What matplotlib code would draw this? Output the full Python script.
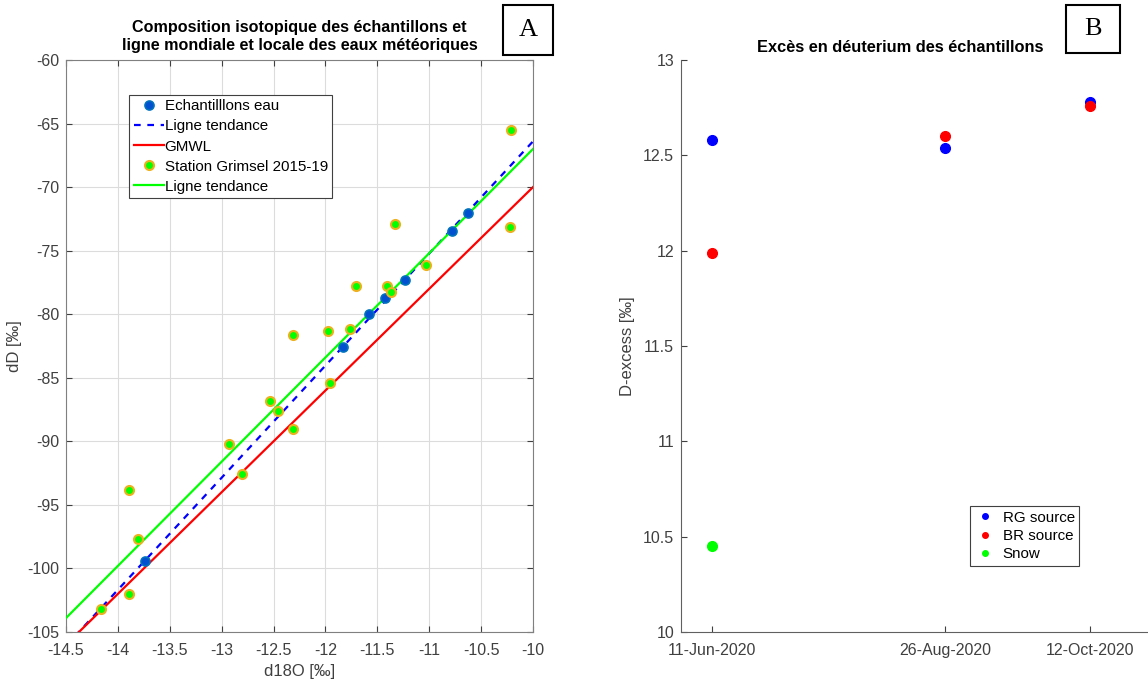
import numpy as np
import matplotlib
matplotlib.use('Agg')
import matplotlib.pyplot as plt
import matplotlib.dates as mdates
from matplotlib.patches import Rectangle
from datetime import datetime

plt.rcParams['font.family'] = ['Liberation Sans', 'DejaVu Sans']

# --- panel A data ---
d18o_samples = [-10.63, -10.78, -11.23, -11.43, -11.58, -11.83, -13.74]
dd_samples = [-72.0, -73.45, -77.3, -78.75, -79.96, -82.55, -99.4]

d18o_station = [-10.21, -11.33, -10.22, -11.03, -11.71, -11.41, -11.37, -12.31, -11.98,
                -11.76, -11.96, -12.53, -12.46, -12.31, -12.93, -12.80, -13.89, -13.81,
                -13.89, -14.16]
dd_station = [-65.5, -72.9, -73.1, -76.1, -77.75, -77.75, -78.25, -81.6, -81.35,
              -81.2, -85.45, -86.8, -87.6, -89.05, -90.2, -92.6, -93.85, -97.7,
              -102.0, -103.2]

# trend lines: slope, intercept
trend_samples = (8.82, 21.8)
gmwl = (8.0, 10.0)
trend_station = (8.2, 15.0)

# --- panel B data ---
dates = [datetime(2020, 6, 11), datetime(2020, 8, 26), datetime(2020, 10, 12)]
rg_source = [12.58, 12.54, 12.78]
br_source = [11.99, 12.60, 12.76]
snow = [10.45, np.nan, np.nan]

W, H = 1148, 680
fig = plt.figure(figsize=(W / 100, H / 100), dpi=100)

axis_col = '#404040'
tick_fs = 11.5

# ---------------- panel A ----------------
axA = fig.add_axes([66 / W, 1 - 632 / H, (533 - 66) / W, 572 / H])
xl = np.array([-14.5, -10.0])
axA.plot(d18o_samples, dd_samples, 'o', ms=6.5, mfc='#0050d0', mec='#0072BD',
         mew=1.2, label='Echantilllons eau', zorder=4)
axA.plot(xl, trend_samples[0] * xl + trend_samples[1], '--', color='#0000ff',
         lw=1.6, dashes=(3, 3), label='Ligne tendance', zorder=3)
axA.plot(xl, gmwl[0] * xl + gmwl[1], '-', color='#ff0000', lw=1.6, label='GMWL', zorder=3)
axA.plot(d18o_station, dd_station, 'o', ms=6.5, mfc='#00ff00', mec='#EDB120',
         mew=1.5, label='Station Grimsel 2015-19', zorder=4)
axA.plot(xl, trend_station[0] * xl + trend_station[1], '-', color='#00ff00', lw=1.6,
         label='Ligne tendance', zorder=3)

axA.set_xlim(-14.5, -10)
axA.set_ylim(-105, -60)
axA.set_xticks(np.arange(-14.5, -9.99, 0.5))
axA.set_yticks(np.arange(-105, -59, 5))
axA.set_xticklabels(['-14.5', '-14', '-13.5', '-13', '-12.5', '-12', '-11.5',
                     '-11', '-10.5', '-10'])
axA.set_yticklabels([str(v) for v in range(-105, -59, 5)])
axA.grid(True, color='#dcdcdc', lw=0.8)
axA.set_axisbelow(True)
axA.tick_params(direction='in', top=True, right=True, labelsize=tick_fs,
                colors=axis_col, length=4)
axA.tick_params(axis='x', pad=8)
axA.tick_params(axis='y', pad=5)
for s in axA.spines.values():
    s.set_color('#808080')
axA.set_xlabel('d18O [‰]', fontsize=12, color=axis_col, labelpad=4)
axA.set_ylabel('dD [‰]', fontsize=12, color=axis_col, labelpad=4)
axA.set_title('Composition isotopique des échantillons et\n'
              'ligne mondiale et locale des eaux météoriques',
              fontsize=11.6, fontweight='bold', pad=7, linespacing=1.3)
legA = axA.legend(loc='upper left', bbox_to_anchor=(0.135, 0.939), fontsize=10.9,
                  handlelength=2.0, handletextpad=0.05, borderpad=0.3,
                  labelspacing=0.4, fancybox=False, framealpha=1,
                  edgecolor='#404040', borderaxespad=0)
legA.get_frame().set_linewidth(0.8)

# ---------------- panel B ----------------
axB = fig.add_axes([681 / W, 1 - 632 / H, (1151 - 681) / W, 572 / H])
axB.plot(dates, rg_source, 'o', color='#0000ff', ms=7, label='RG source')
axB.plot(dates, br_source, 'o', color='#ff0000', ms=7, label='BR source')
axB.plot(dates, snow, 'o', color='#00ff00', ms=7, label='Snow')
axB.set_xlim(datetime(2020, 6, 1), datetime(2020, 11, 1))
axB.set_ylim(10, 13)
axB.set_xticks(dates)
axB.xaxis.set_major_formatter(mdates.DateFormatter('%d-%b-%Y'))
axB.set_yticks(np.arange(10, 13.01, 0.5))
axB.set_yticklabels(['10', '10.5', '11', '11.5', '12', '12.5', '13'])
axB.spines['top'].set_visible(False)
axB.spines['right'].set_visible(False)
for s in ('left', 'bottom'):
    axB.spines[s].set_color('#606060')
axB.tick_params(direction='in', labelsize=tick_fs, colors=axis_col, length=4)
axB.tick_params(axis='x', pad=8)
axB.tick_params(axis='y', pad=5)
axB.set_ylabel('D-excess [‰]', fontsize=12, color=axis_col, labelpad=6)
axB.set_title('Excès en déuterium des échantillons', fontsize=11.8,
              fontweight='bold', x=(900 - 681) / 470, pad=6)
legB = axB.legend(loc='upper left', bbox_to_anchor=(0.615, 0.220), fontsize=10.9,
                  handlelength=1.4, handletextpad=0.45, borderpad=0.3,
                  labelspacing=0.28, fancybox=False, framealpha=1,
                  edgecolor='#404040', borderaxespad=0)
legB.get_frame().set_linewidth(0.8)
for h in legB.legend_handles:
    h.set_markersize(4)

# ---------------- panel letters ----------------
for letter, (x0, y0, x1, y1) in (('A', (503, 5, 553, 55)), ('B', (1066, 5, 1120, 53))):
    fig.patches.append(Rectangle((x0 / W, 1 - y1 / H), (x1 - x0) / W, (y1 - y0) / H,
                                 transform=fig.transFigure, fill=False,
                                 edgecolor='black', lw=1.5))
    fig.text((x0 + x1) / 2 / W, 1 - (y0 + y1) / 2 / H, letter, ha='center',
             va='center', fontsize=19, family='Liberation Serif')

fig.savefig('out.png', dpi=100)
